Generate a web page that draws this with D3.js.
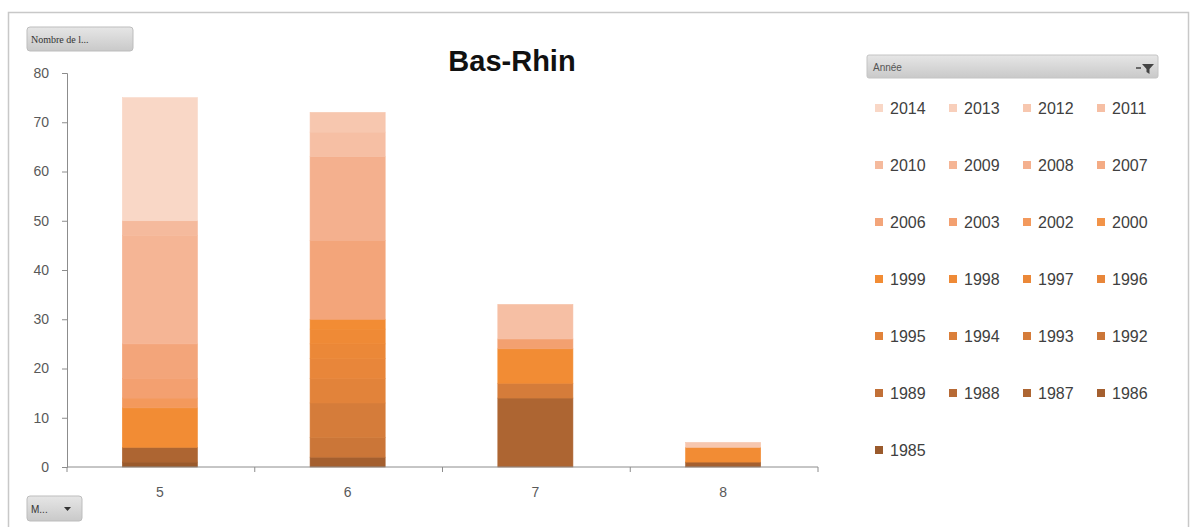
<!DOCTYPE html>
<html>
<head>
<meta charset="utf-8">
<script src="https://cdn.jsdelivr.net/npm/d3@7"></script>
<style>
  html, body { margin: 0; padding: 0; background: #fff; }
  svg { display: block; }
</style>
</head>
<body>
<svg id="chart" width="1197" height="527"></svg>
<script>
// Number of records per category (5, 6, 7, 8), split by year
const categories = ["5", "6", "7", "8"];
const years = [1985, 1986, 1987, 1988, 1989, 1992, 1993, 1994, 1995, 1996, 1997, 1998,
               1999, 2000, 2002, 2003, 2006, 2007, 2008, 2009, 2010, 2011, 2012, 2013, 2014];
//                 85 86 87 88 89 92 93 94 95 96 97 98 99 00 02 03 06 07 08 09 10 11 12 13 14
const counts5 = [1, 0, 3, 0, 0, 0, 0, 0, 0, 0, 0, 0, 8, 0, 2, 4, 7, 0, 0, 22, 3, 0, 0, 0, 25];
const counts6 = [0, 2, 0, 0, 0, 4, 7, 0, 5, 4, 3, 3, 2, 0, 0, 0, 16, 0, 17, 0, 0, 5, 4, 0, 0];
const counts7 = [0, 0, 14, 0, 0, 0, 3, 0, 0, 0, 0, 0, 7, 0, 0, 2, 0, 0, 0, 0, 0, 7, 0, 0, 0];
const counts8 = [0, 1, 0, 0, 0, 0, 0, 0, 0, 0, 0, 0, 3, 0, 0, 0, 0, 0, 0, 0, 0, 0, 1, 0, 0];
const yTicks = [0, 10, 20, 30, 40, 50, 60, 70, 80];
const chartTitle = "Bas-Rhin";
const legendTitle = "Année";

const countsByCategory = [counts5, counts6, counts7, counts8];
const rows = categories.map((c, i) => {
  const r = { cat: c };
  years.forEach((y, j) => { r[y] = countsByCategory[i][j]; });
  return r;
});

const svg = d3.select("#chart");
const font = "'Liberation Sans', Arial, sans-serif";

// Chart frame
svg.append("rect").attr("x", 8.5).attr("y", 12.5).attr("width", 1180).attr("height", 530)
  .attr("fill", "#fff").attr("stroke", "#c8c8c8").attr("stroke-width", 1.5);

const plot = { left: 67, right: 818, top: 73, bottom: 467 };

const x = d3.scaleBand().domain(categories).range([plot.left, plot.right]).paddingInner(0.6).paddingOuter(0.3);
const y = d3.scaleLinear().domain([0, 80]).range([plot.bottom, plot.top]);

// Monochrome orange ramp from oldest (dark brown) to newest (pale pink)
const rampStops = ["#9a5a2c", "#b76a35", "#d57c3a", "#e8863a", "#f28c34", "#f3a070", "#f4b08e", "#f6bfa4", "#f9d7c6"];
const ramp = d3.scaleLinear()
  .domain(d3.range(rampStops.length).map(i => i * (years.length - 1) / (rampStops.length - 1)))
  .range(rampStops);
const color = d3.scaleOrdinal().domain(years).range(years.map((_, i) => ramp(i)));

const stacked = d3.stack().keys(years)(rows);

// Bars (segments outlined in their own colour so no seams show)
svg.append("g").selectAll("g").data(stacked).join("g")
  .attr("fill", d => color(d.key))
  .attr("stroke", d => color(d.key))
  .attr("stroke-width", 0.6)
  .selectAll("rect").data(d => d.filter(s => s[1] > s[0])).join("rect")
  .attr("x", d => x(d.data.cat) - 1)
  .attr("width", x.bandwidth())
  .attr("y", d => y(d[1]))
  .attr("height", d => y(d[0]) - y(d[1]));

// Y axis
const yAxis = svg.append("g").attr("transform", `translate(${plot.left},0)`)
  .call(d3.axisLeft(y).tickValues(yTicks).tickSize(5).tickPadding(13));
yAxis.select(".domain").attr("stroke", "#8c8c8c");
yAxis.selectAll(".tick line").attr("stroke", "#8c8c8c");
yAxis.selectAll("text").attr("font-family", font).attr("font-size", 14).attr("fill", "#595959");

// X axis with tick marks between categories
const xAxis = svg.append("g").attr("transform", `translate(0,${plot.bottom})`)
  .call(d3.axisBottom(x).tickSize(0).tickPadding(20));
xAxis.select(".domain").attr("stroke", "#8c8c8c").attr("d", `M${plot.left},0H${plot.right}`);
xAxis.selectAll(".tick").attr("transform", d => `translate(${x(d) + x.bandwidth() / 2 - 1},0)`);
xAxis.selectAll("text").attr("font-family", font).attr("font-size", 14).attr("fill", "#595959");
const step = (plot.right - plot.left) / categories.length;
xAxis.append("g").selectAll("line").data(d3.range(categories.length + 1)).join("line")
  .attr("x1", i => plot.left + i * step).attr("x2", i => plot.left + i * step)
  .attr("y1", 0).attr("y2", 5).attr("stroke", "#8c8c8c");

// Title
svg.append("text").attr("x", 512).attr("y", 71).attr("text-anchor", "middle")
  .attr("font-family", font).attr("font-weight", "bold").attr("font-size", 29)
  .attr("fill", "#111").text(chartTitle);

// Field buttons
const btnGrad = svg.append("defs").append("linearGradient").attr("id", "btn")
  .attr("x1", 0).attr("y1", 0).attr("x2", 0).attr("y2", 1);
btnGrad.append("stop").attr("offset", 0).attr("stop-color", "#e6e6e6");
btnGrad.append("stop").attr("offset", 1).attr("stop-color", "#c9c9c9");

svg.append("rect").attr("x", 27).attr("y", 27).attr("width", 106).attr("height", 24).attr("rx", 3)
  .attr("fill", "url(#btn)").attr("stroke", "#bdbdbd");
svg.append("text").attr("x", 31).attr("y", 43).attr("font-family", "'Liberation Serif', serif")
  .attr("font-size", 10).attr("fill", "#333").text("Nombre de l...");

svg.append("rect").attr("x", 27).attr("y", 496).attr("width", 55).attr("height", 25).attr("rx", 3)
  .attr("fill", "url(#btn)").attr("stroke", "#bdbdbd");
svg.append("text").attr("x", 31).attr("y", 513).attr("font-family", font)
  .attr("font-size", 10).attr("fill", "#333").text("M...");
svg.append("path").attr("d", "M64,507 l7,0 l-3.5,4 z").attr("fill", "#333");

// Legend header
svg.append("rect").attr("x", 867).attr("y", 55).attr("width", 291).attr("height", 23).attr("rx", 2)
  .attr("fill", "url(#btn)").attr("stroke", "#c4c4c4");
svg.append("text").attr("x", 873).attr("y", 71).attr("font-family", font)
  .attr("font-size", 10).attr("fill", "#555").text(legendTitle);
svg.append("path").attr("d", "M1142,64 h12 l-4.5,5 v5 l-3,-2 v-3 z").attr("fill", "#444");
svg.append("line").attr("x1", 1136).attr("x2", 1141).attr("y1", 68).attr("y2", 68)
  .attr("stroke", "#444").attr("stroke-width", 1.5);

// Legend items, newest first, four per row
const legendYears = years.slice().reverse();
const colX = [875, 949, 1023, 1097];
const legend = svg.append("g").selectAll("g").data(legendYears).join("g")
  .attr("transform", (d, i) => `translate(${colX[i % 4]},${108 + Math.floor(i / 4) * 57})`);
legend.append("rect").attr("x", 0).attr("y", -4).attr("width", 8).attr("height", 8)
  .attr("fill", d => color(d));
legend.append("text").attr("x", 15).attr("y", 6).attr("font-family", font)
  .attr("font-size", 16).attr("fill", "#404040").text(d => d);
</script>
</body>
</html>
